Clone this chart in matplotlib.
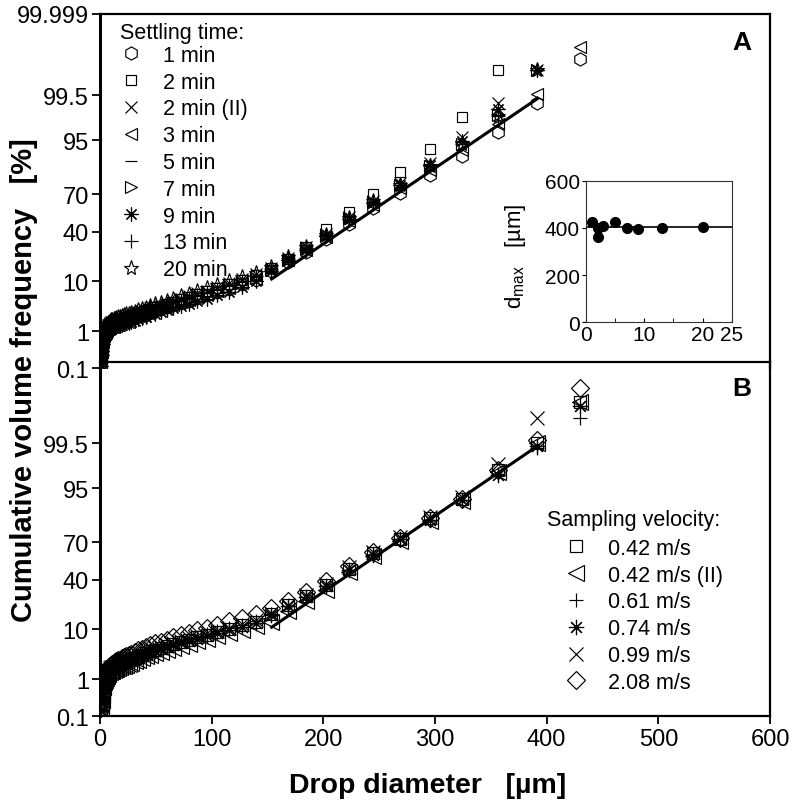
import numpy as np
import matplotlib
matplotlib.use('Agg')
import matplotlib.pyplot as plt
from matplotlib.lines import Line2D
from math import erf

plt.rcParams['font.family'] = ['Liberation Sans', 'DejaVu Sans']
plt.rcParams['mathtext.fontset'] = 'custom'
plt.rcParams['mathtext.rm'] = 'Liberation Sans'

# drop size classes [um]
diam = [1.0, 1.2, 1.4, 1.7, 2.0, 2.5, 3.0, 3.6, 4.3, 5.2, 6.3, 7.6, 9.1,
        10.0, 11.0, 12.1, 13.3, 14.6, 16.0, 17.6, 19.4, 21.3, 23.4,
        25.7, 28.2, 31.0, 34.0, 37.4, 41.1, 45.1, 49.5, 54.4, 59.8,
        65.7, 72.2, 79.3, 87.1, 95.7, 105.1, 115.4, 126.8, 139.3, 153.0,
        168.1, 184.6, 202.8, 222.8, 244.7, 268.8, 295.3, 324.4, 356.3, 391.4,
        430.0]

# panel A - cumulative volume frequency [%] for each settling time
a_1min = [0.14, 0.20, 0.28, 0.37, 0.46, 0.57, 0.66, 0.75, 0.85, 0.94, 1.03, 1.15, 1.27,
          1.33, 1.38, 1.43, 1.47, 1.51, 1.55, 1.60, 1.66, 1.72, 1.79,
          1.88, 1.97, 2.07, 2.20, 2.34, 2.50, 2.69, 2.91, 3.14, 3.40,
          3.73, 4.11, 4.55, 5.10, 5.74, 6.51, 7.5, 8.9, 10.6, 14.0,
          19.0, 25, 34, 46, 59, 71, 82, 90.7, 96.5, 99.2,
          99.955]
a_2min = [0.16, 0.24, 0.32, 0.43, 0.54, 0.67, 0.78, 0.89, 0.99, 1.10, 1.21, 1.35, 1.49,
          1.57, 1.62, 1.67, 1.73, 1.77, 1.83, 1.88, 1.94, 2.02, 2.11,
          2.20, 2.31, 2.43, 2.58, 2.74, 2.94, 3.15, 3.41, 3.68, 4.00,
          4.37, 4.83, 5.35, 5.98, 6.74, 7.65, 8.9, 10.5, 12.4, 15.5,
          20.5, 28.5, 42, 56, 70, 83.8, 92.8, 98.3, 99.9]
a_2min2 = [0.17, 0.25, 0.34, 0.45, 0.56, 0.69, 0.81, 0.92, 1.03, 1.14, 1.25, 1.40, 1.55,
           1.62, 1.68, 1.74, 1.79, 1.84, 1.89, 1.95, 2.02, 2.09, 2.18,
           2.28, 2.40, 2.52, 2.68, 2.84, 3.05, 3.27, 3.54, 3.82, 4.14,
           4.54, 5.01, 5.54, 6.20, 6.99, 7.93, 9.2, 10.9, 12.9, 15.5,
           21, 28, 38, 52, 65, 77.5, 88, 95.6, 99.2, 99.9]
a_3min = [0.14, 0.21, 0.29, 0.38, 0.48, 0.59, 0.68, 0.78, 0.87, 0.97, 1.06, 1.19, 1.31,
          1.38, 1.43, 1.47, 1.52, 1.56, 1.61, 1.65, 1.71, 1.78, 1.85,
          1.94, 2.03, 2.14, 2.27, 2.41, 2.58, 2.77, 3.00, 3.24, 3.52,
          3.85, 4.25, 4.70, 5.26, 5.93, 6.73, 7.8, 9.2, 10.9, 14.5,
          20, 26.5, 36, 49, 62, 74, 84.5, 92.5, 97.6, 99.53,
          99.983]
a_5min = [0.16, 0.23, 0.31, 0.41, 0.50, 0.63, 0.73, 0.83, 0.93, 1.03, 1.13, 1.26, 1.39,
          1.46, 1.51, 1.56, 1.61, 1.65, 1.70, 1.75, 1.81, 1.88, 1.96,
          2.05, 2.15, 2.26, 2.40, 2.55, 2.73, 2.93, 3.17, 3.42, 3.71,
          4.06, 4.48, 4.96, 5.55, 6.25, 7.1, 8.2, 9.7, 11.5, 15,
          20.5, 27, 37, 50.5, 64, 76, 86.5, 94, 98.5, 99.9]
a_7min = [0.15, 0.21, 0.29, 0.39, 0.49, 0.60, 0.70, 0.80, 0.89, 0.99, 1.09, 1.21, 1.34,
          1.41, 1.46, 1.50, 1.55, 1.59, 1.64, 1.69, 1.75, 1.81, 1.89,
          1.98, 2.08, 2.18, 2.32, 2.46, 2.64, 2.83, 3.07, 3.31, 3.59,
          3.93, 4.34, 4.80, 5.37, 6.05, 6.87, 7.95, 9.4, 11.2, 14.8,
          20, 27.5, 37.5, 51, 64, 76.5, 86.5, 94, 98.5, 99.9]
a_9min = [0.12, 0.17, 0.24, 0.31, 0.39, 0.48, 0.56, 0.64, 0.72, 0.80, 0.88, 0.98, 1.08,
          1.14, 1.18, 1.22, 1.26, 1.29, 1.33, 1.37, 1.42, 1.48, 1.54,
          1.61, 1.69, 1.78, 1.89, 2.01, 2.15, 2.31, 2.51, 2.71, 2.95,
          3.23, 3.58, 3.97, 4.45, 5.02, 5.72, 6.7, 8.1, 9.9, 14,
          20, 26.5, 36.5, 50, 63.5, 76, 87, 94.8, 98.9, 99.9]
a_13min = [0.16, 0.23, 0.32, 0.42, 0.53, 0.65, 0.76, 0.86, 0.97, 1.07, 1.18, 1.31, 1.45,
           1.52, 1.58, 1.63, 1.68, 1.72, 1.77, 1.83, 1.89, 1.96, 2.05,
           2.14, 2.25, 2.36, 2.51, 2.67, 2.86, 3.07, 3.32, 3.58, 3.89,
           4.25, 4.69, 5.20, 5.82, 6.55, 7.43, 8.6, 10.2, 12.0, 15.3,
           21, 27.5, 37, 50.5, 64, 76, 86.5, 94, 98.4, 99.9]
a_20min = [0.19, 0.27, 0.37, 0.49, 0.62, 0.76, 0.89, 1.01, 1.14, 1.26, 1.39, 1.55, 1.71,
           1.80, 1.86, 1.92, 1.98, 2.03, 2.09, 2.16, 2.23, 2.32, 2.42,
           2.53, 2.65, 2.79, 2.96, 3.14, 3.37, 3.62, 3.91, 4.22, 4.59,
           5.01, 5.53, 6.12, 6.84, 7.70, 8.71, 10.0, 11.6, 13.5, 16.3,
           21.5, 28, 37.5, 51, 64.5, 76.5, 86.5, 94, 98.4, 99.9]

# panel B - cumulative volume frequency [%] for each sampling velocity
b_042 = [0.16, 0.25, 0.34, 0.48, 0.61, 0.74, 0.89, 1.01, 1.11, 1.26, 1.41, 1.54, 1.73,
         1.83, 1.87, 1.96, 2.03, 2.08, 2.18, 2.26, 2.34, 2.46, 2.57,
         2.67, 2.83, 3.04, 3.26, 3.49, 3.81, 4.09, 4.41, 4.74, 5.16,
         5.58, 6.12, 6.68, 7.37, 8.08, 9.02, 10.0, 11.5, 12.9, 16.5,
         21.5, 27.5, 36, 49, 61.5, 72.5, 84.5, 92.3, 97.8, 99.5,
         99.97]
b_042b = [0.13, 0.21, 0.30, 0.40, 0.51, 0.64, 0.75, 0.85, 0.95, 1.06, 1.19, 1.32, 1.46,
          1.55, 1.60, 1.66, 1.72, 1.78, 1.84, 1.91, 2.00, 2.08, 2.18,
          2.28, 2.40, 2.59, 2.76, 2.98, 3.23, 3.49, 3.74, 4.04, 4.38,
          4.76, 5.19, 5.70, 6.25, 6.89, 7.65, 8.6, 9.7, 11.1, 13,
          18, 24.5, 32, 46.5, 59.5, 71, 83, 91.5, 97.6, 99.5,
          99.97]
b_061 = [0.15, 0.26, 0.36, 0.48, 0.61, 0.77, 0.90, 1.02, 1.14, 1.28, 1.43, 1.58, 1.75,
         1.86, 1.92, 1.99, 2.06, 2.13, 2.21, 2.30, 2.40, 2.50, 2.61,
         2.73, 2.88, 3.11, 3.32, 3.57, 3.88, 4.18, 4.49, 4.85, 5.25,
         5.71, 6.22, 6.83, 7.50, 8.26, 9.18, 10.3, 11.6, 13.3, 16.5,
         21, 27, 35, 48, 60.5, 72, 83.5, 91.8, 97.4, 99.35,
         99.9]
b_074 = [0.14, 0.24, 0.33, 0.45, 0.57, 0.71, 0.84, 0.95, 1.06, 1.19, 1.33, 1.47, 1.63,
         1.73, 1.79, 1.85, 1.92, 1.99, 2.06, 2.14, 2.23, 2.33, 2.43,
         2.55, 2.68, 2.90, 3.09, 3.33, 3.61, 3.90, 4.18, 4.51, 4.89,
         5.32, 5.80, 6.37, 6.98, 7.70, 8.55, 9.6, 10.8, 12.4, 16,
         21, 27, 35, 48, 60.5, 72, 83.5, 91.8, 97.2, 99.4,
         99.96]
b_099 = [0.16, 0.26, 0.37, 0.49, 0.63, 0.79, 0.92, 1.05, 1.18, 1.31, 1.47, 1.63, 1.81,
         1.91, 1.97, 2.05, 2.12, 2.19, 2.28, 2.36, 2.47, 2.57, 2.69,
         2.81, 2.96, 3.20, 3.41, 3.68, 3.99, 4.31, 4.62, 4.99, 5.41,
         5.88, 6.41, 7.04, 7.72, 8.51, 9.45, 10.6, 12.0, 13.7, 17,
         22, 28, 36.5, 50, 62.5, 73.5, 85, 92.8, 98.4, 99.9]
b_208 = [0.18, 0.30, 0.42, 0.56, 0.72, 0.90, 1.06, 1.20, 1.34, 1.50, 1.68, 1.86, 2.06,
         2.18, 2.26, 2.34, 2.45, 2.55, 2.67, 2.79, 2.94, 3.09, 3.25,
         3.43, 3.64, 3.97, 4.23, 4.55, 4.94, 5.33, 5.72, 6.18, 6.70,
         7.28, 7.93, 8.71, 9.56, 10.5, 11.7, 13.1, 14.8, 16.9, 20,
         24.5, 30.5, 38.5, 51, 62.5, 73, 84.5, 92.2, 97.8, 99.6,
         99.99]

# straight fits on probability scale
fit_d = [153.7, 391.4]
fit_a = [10.8, 99.38]
fit_b = [10.7, 99.4]

# inset: maximum drop size vs settling time
t_settle = [1, 2, 2, 3, 5, 7, 9, 13, 20]
d_max = [424, 363, 400, 410, 423, 400, 396, 400, 403]
d_max_mean = 403

yticks = [0.1, 1, 10, 40, 70, 95, 99.5, 99.999]
ytick_labels = ['0.1', '1', '10', '40', '70', '95', '99.5', '99.999']

# probability (normal quantile) axis
z_grid = np.linspace(-6, 6, 12001)
p_grid = np.array([50 * (1 + erf(v / np.sqrt(2))) for v in z_grid])


def to_z(p):
    return np.interp(p, p_grid, z_grid)


def to_p(z):
    return np.interp(z, z_grid, p_grid)


ast = (8, 2, 0)
series_a = [('1 min', a_1min, 'h', 9.5), ('2 min', a_2min, 's', 7.5),
            ('2 min (II)', a_2min2, 'x', 8.5), ('3 min', a_3min, '<', 9),
            ('5 min', a_5min, '_', 9), ('7 min', a_7min, '>', 9),
            ('9 min', a_9min, ast, 10), ('13 min', a_13min, '+', 9.5),
            ('20 min', a_20min, '*', 11)]
series_b = [('0.42 m/s', b_042, 's', 9), ('0.42 m/s (II)', b_042b, '<', 11),
            ('0.61 m/s', b_061, '+', 10.5), ('0.74 m/s', b_074, ast, 11),
            ('0.99 m/s', b_099, 'x', 10), ('2.08 m/s', b_208, 'D', 9.5)]

W, H = 795, 803
fig = plt.figure(figsize=(W / 100, H / 100), dpi=100)


def fx(px):
    return px / W


def fy(py):
    return 1 - py / H


ax_a = fig.add_axes([fx(100), fy(369.3), fx(670), 354.5 / H])
ax_b = fig.add_axes([fx(100), fy(717.3), fx(670), 354.5 / H])
ax_b.set_facecolor('none')

for ax, series, fit in [(ax_a, series_a, fit_a), (ax_b, series_b, fit_b)]:
    ax.set_yscale('function', functions=(to_z, to_p))
    for lab, vals, m, ms in series:
        ax.plot(diam[:len(vals)], vals, ls='none', marker=m, ms=ms,
                mfc='none', mec='black', color='black', mew=0.85, zorder=2)
    ax.plot(fit_d, fit, color='black', lw=2.2, zorder=3)
    ax.set_xlim(0, 600)
    ax.set_ylim(0.1, 99.999)
    ax.yaxis.set_minor_locator(plt.NullLocator())
    ax.tick_params(axis='y', direction='out', length=5.5, width=1.3,
                   labelsize=17, pad=2.5)
    ax.tick_params(axis='x', direction='out', length=5.5, width=1.3,
                   labelsize=17, pad=3)
    for s in ax.spines.values():
        s.set_linewidth(1.6)
    ax.spines['left'].set_linewidth(2.2)

ax_a.set_yticks(yticks)
ax_a.set_yticklabels(ytick_labels)
ax_b.set_yticks(yticks[:-1])
ax_b.set_yticklabels(ytick_labels[:-1])
ax_a.spines['bottom'].set_visible(False)
ax_a.tick_params(axis='x', bottom=False, labelbottom=False)
ax_b.set_xticks(range(0, 601, 100))


# legends
def handles(series):
    return [Line2D([], [], ls='none', marker=m, ms=ms, mfc='none', mec='black',
                   color='black', mew=0.85) for lab, vals, m, ms in series]


ax_a.legend(handles(series_a), [s[0] for s in series_a], loc='upper left',
            bbox_to_anchor=(20 / 670, 1 - 31 / 354.5), frameon=False,
            fontsize=15.5, handlelength=1.0, handletextpad=1.0,
            labelspacing=0.27, borderpad=0, borderaxespad=0)
ax_b.legend(handles(series_b), [s[0] for s in series_b], loc='upper left',
            bbox_to_anchor=(465 / 670, 1 - 176 / 354.5), frameon=False,
            fontsize=15.5, handlelength=1.0, handletextpad=1.0,
            labelspacing=0.27, borderpad=0, borderaxespad=0)
fig.text(fx(120), fy(38.5), 'Settling time:', fontsize=15.5, va='baseline')
fig.text(fx(546.7), fy(526), 'Sampling velocity:', fontsize=15.5, va='baseline')

fig.text(fx(741.7), fy(43), 'A', fontsize=19, weight='bold', ha='center', va='center')
fig.text(fx(741.7), fy(389), 'B', fontsize=19, weight='bold', ha='center', va='center')

fig.text(fx(24), fy(380), 'Cumulative volume frequency   [%]', rotation=90,
         fontsize=21, weight='bold', ha='center', va='center')
fig.text(fx(428), fy(786), 'Drop diameter   [µm]', fontsize=20.5,
         weight='bold', ha='center', va='center')

# inset
ax_in = fig.add_axes([fx(586), fy(323.3), fx(145.7), 141.6 / H])
ax_in.plot(t_settle, d_max, 'o', color='black', ms=7)
ax_in.axhline(d_max_mean, color='black', lw=1.2)
ax_in.set_xlim(0, 25)
ax_in.set_ylim(0, 600)
ax_in.set_xticks([0, 10, 20, 25])
ax_in.set_xticks([5, 15], minor=True)
ax_in.set_yticks([0, 200, 400, 600])
ax_in.tick_params(axis='x', which='both', direction='in', length=3, labelsize=15, pad=2)
ax_in.tick_params(axis='y', direction='out', length=3, labelsize=15, pad=1.5)
for s in ax_in.spines.values():
    s.set_linewidth(0.8)
    s.set_color('#333333')
ax_in.set_ylabel(r'd$_{\mathrm{max}}$   [µm]', fontsize=16)
ax_in.yaxis.set_label_coords(-0.40, 0.475)

fig.savefig('out.png', dpi=100)
